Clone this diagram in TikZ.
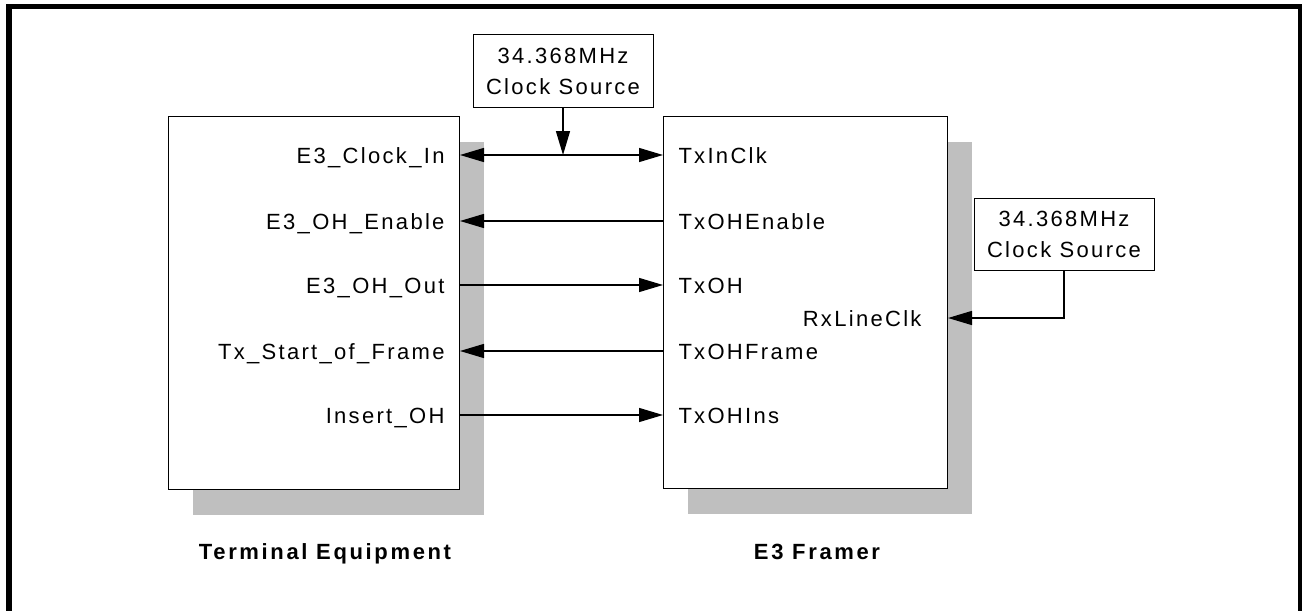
\documentclass[tikz,border=0pt]{standalone}
\usepackage{fontspec}
\setmainfont{Liberation Sans}[LetterSpace=10.5]
\newfontfamily\titlefont{Liberation Sans}[LetterSpace=12]
\usetikzlibrary{arrows.meta,shadows}
\begin{document}
\begin{tikzpicture}[
    x=0.75pt, y=-0.75pt,
    line width=0.75pt,
    >={Triangle[length=18pt,width=10.5pt]},
    blk/.style={draw, fill=white, inner sep=0pt,
      drop shadow={shadow xshift=18pt, shadow yshift=-18.75pt, fill=black!25, opacity=1}},
    clkbox/.style={draw, fill=white, align=center, minimum width=135pt, minimum height=54pt,
      inner sep=0pt, font=\fontsize{16.5pt}{23.25pt}\selectfont},
    lbl/.style={inner sep=0pt, text height=12pt, text depth=0pt,
      font=\fontsize{16.5pt}{20pt}\selectfont},
    title/.style={inner sep=0pt, font=\titlefont\bfseries\fontsize{16.5pt}{20pt}\selectfont},
    sig/.style={line width=1pt}
  ]
    \useasboundingbox (0,0) rectangle (1302,610);

    % 外枠（下辺なし）
    \draw[line width=4.3pt, line join=miter] (9,620) -- (9,6.5) -- (1300.5,6.5) -- (1300.5,620);

    % ブロック本体
    \node[blk, anchor=north west, minimum width=218.25pt, minimum height=279.75pt] (term) at (168,116) {};
    \node[blk, anchor=north west, minimum width=213pt, minimum height=279pt] (framer) at (663,116) {};

    % クロック源
    \node[clkbox] (clkA) at (563,71) {34.368MHz\\Clock Source};
    \node[clkbox] (clkB) at (1064,234) {34.368MHz\\Clock Source};

    % 端子名
    \foreach \i/\y/\tl/\tr in {1/155/E3\_Clock\_In/TxInClk,
                               2/221/E3\_OH\_Enable/TxOHEnable,
                               3/285/E3\_OH\_Out/TxOH,
                               4/351/Tx\_Start\_of\_Frame/TxOHFrame,
                               5/415/Insert\_OH/TxOHIns} {
      \node[lbl, anchor=east] (te\i) at (445,\y) {\tl};
      \node[lbl, anchor=west] (fr\i) at (678,\y) {\tr};
    }
    \node[lbl, anchor=east] (rx) at (922,318) {RxLineClk};

    % 信号線
    \draw[sig, <->] (term.east |- te1) -- (framer.west |- fr1);
    \draw[sig, <-] (term.east |- te2) -- (framer.west |- fr2);
    \draw[sig, ->] (term.east |- te3) -- (framer.west |- fr3);
    \draw[sig, <-] (term.east |- te4) -- (framer.west |- fr4);
    \draw[sig, ->] (term.east |- te5) -- (framer.west |- fr5);
    \draw[sig, ->] (clkA) -- (clkA |- te1);
    \draw[sig, ->] (clkB) |- (framer.east |- rx);

    % ブロック名
    \node[title, anchor=base] (termName) at (325,559) {Terminal Equipment};
    \node[title, anchor=base] (framerName) at (817,559) {E3 Framer};
\end{tikzpicture}
\end{document}
